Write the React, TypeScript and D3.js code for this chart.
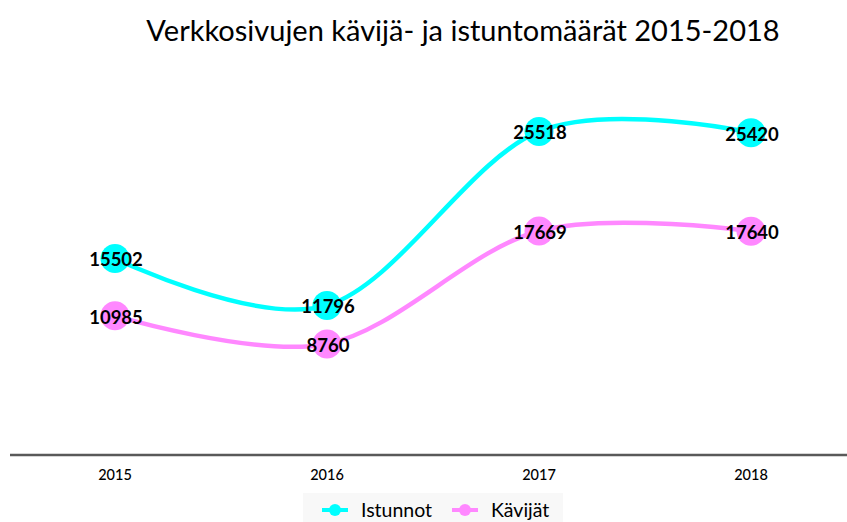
import React from "react";
import * as d3 from "d3";

const years = ["2015", "2016", "2017", "2018"];
const istunnot = [15502, 11796, 25518, 25420];
const kavijat = [10985, 8760, 17669, 17640];
const seriesNames = ["Istunnot", "Kävijät"];
const colors = ["#00FFFF", "#FF88FF"];
const title = "Verkkosivujen kävijä- ja istuntomäärät 2015-2018";

export default function App() {
  const W = 847;
  const H = 522;
  const x = d3.scalePoint<string>().domain(years).range([9, 857]).padding(0.5);
  const y = d3.scaleLinear().domain([0, 30000]).range([455, 74.6]);
  const line = d3
    .line<number>()
    .x((_, i) => x(years[i]) as number)
    .y((d) => y(d))
    .curve(d3.curveCardinal.tension(0));
  const series = [istunnot, kavijat];
  const font = "Lato, 'Liberation Sans', sans-serif";

  return (
    <svg
      width={W}
      height={H}
      style={{ position: "absolute", left: 0, top: 0, background: "#fff" }}
      fontFamily={font}
    >
      <text x={463} y={41} textAnchor="middle" fontSize={29} fill="#000">
        {title}
      </text>
      <line x1={10} x2={W} y1={455} y2={455} stroke="#595959" strokeWidth={2.5} />
      {years.map((yr) => (
        <text key={yr} x={x(yr)} y={480} textAnchor="middle" fontSize={14.5} fontWeight={500} fill="#000">
          {yr}
        </text>
      ))}
      {series.map((s, si) => (
        <path key={"l" + si} d={line(s) || ""} fill="none" stroke={colors[si]} strokeWidth={4.5} />
      ))}
      {series.map((s, si) =>
        s.map((v, i) => (
          <circle key={"c" + si + i} cx={x(years[i])} cy={y(v)} r={14.5} fill={colors[si]} />
        ))
      )}
      {series.map((s, si) =>
        s.map((v, i) => (
          <text
            key={"t" + si + i}
            x={(x(years[i]) as number) + 1}
            y={y(v) + 8}
            textAnchor="middle"
            fontSize={18.5}
            fontWeight="bold"
            fill="#000"
          >
            {v}
          </text>
        ))
      )}
      <rect x={303} y={493} width={260} height={29} fill="#f8f8f8" />
      {seriesNames.map((n, i) => {
        const lx = i === 0 ? 322 : 452;
        return (
          <g key={n}>
            <line x1={lx} x2={lx + 26} y1={510} y2={510} stroke={colors[i]} strokeWidth={4} />
            <circle cx={lx + 13} cy={510} r={6} fill={colors[i]} />
            <text x={lx + 39} y={517} fontSize={19.5} fill="#000">
              {n}
            </text>
          </g>
        );
      })}
    </svg>
  );
}
